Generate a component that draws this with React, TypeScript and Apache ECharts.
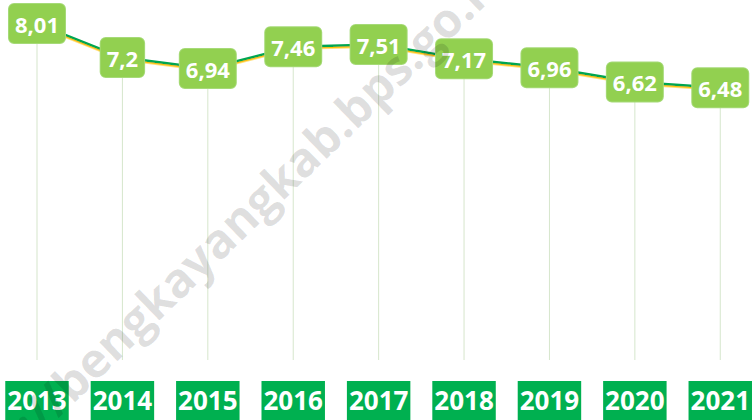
import React, { useEffect, useRef } from "react";
import * as echarts from "echarts";

const years = ["2013", "2014", "2015", "2016", "2017", "2018", "2019", "2020", "2021"];
const values = [8.01, 7.2, 6.94, 7.46, 7.51, 7.17, 6.96, 6.62, 6.48];
const watermarkText = "https://bengkayangkab.bps.go.id";

export default function App() {
  const ref = useRef<HTMLDivElement>(null);
  useEffect(() => {
    if (!ref.current) return;
    const chart = echarts.init(ref.current, null, { renderer: "svg" });
    chart.setOption({
      animation: false,
      backgroundColor: "#ffffff",
      grid: { left: 37, right: 34, top: 3, bottom: 58, containLabel: false },
      xAxis: {
        type: "category",
        data: years,
        boundaryGap: false,
        axisLine: { show: false },
        axisTick: { show: false },
        splitLine: { show: false },
        axisLabel: {
          margin: 21,
          color: "#ffffff",
          fontFamily: "Open Sans",
          fontWeight: "bold",
          fontSize: 26,
          lineHeight: 30,
          backgroundColor: "#00B050",
          padding: [4, 2, 5, 2],
        },
      },
      yAxis: {
        type: "value",
        min: 0,
        max: 8.5,
        show: false,
        splitLine: { show: false },
      },
      series: [
        {
          type: "bar",
          data: values,
          barWidth: 1,
          itemStyle: { color: "#d6e6cc" },
          z: 1,
          silent: true,
        },
        {
          type: "line",
          data: values,
          symbol: "circle",
          symbolSize: 2,
          itemStyle: { color: "#00A650" },
          lineStyle: {
            color: "#00A650",
            width: 2.5,
            shadowColor: "#FFC000",
            shadowOffsetY: 1.5,
            shadowBlur: 0,
          },
          z: 3,
          label: {
            show: true,
            position: "inside",
            formatter: (p: any) => String(p.value).replace(".", ","),
            color: "#ffffff",
            fontFamily: "Open Sans",
            fontWeight: "bold",
            fontSize: 22,
            lineHeight: 24,
            backgroundColor: "#92D050",
            borderColor: "#a6da78",
            borderWidth: 1,
            borderRadius: 5,
            padding: [7, 6, 8, 6],
          },
        },
      ],
      graphic: [
        {
          type: "text",
          x: 213,
          y: 243,
          rotation: (44 * Math.PI) / 180,
          z: 100,
          silent: true,
          style: {
            text: watermarkText,
            fontFamily: "Open Sans",
            fontWeight: "bold",
            fontSize: 48,
            fill: "rgba(0,0,0,0.13)",
            align: "center",
            verticalAlign: "middle",
          },
        },
      ],
    });
    return () => chart.dispose();
  }, []);
  return <div ref={ref} style={{ width: 755, height: 420, position: "absolute", left: 0, top: 0 }} />;
}
